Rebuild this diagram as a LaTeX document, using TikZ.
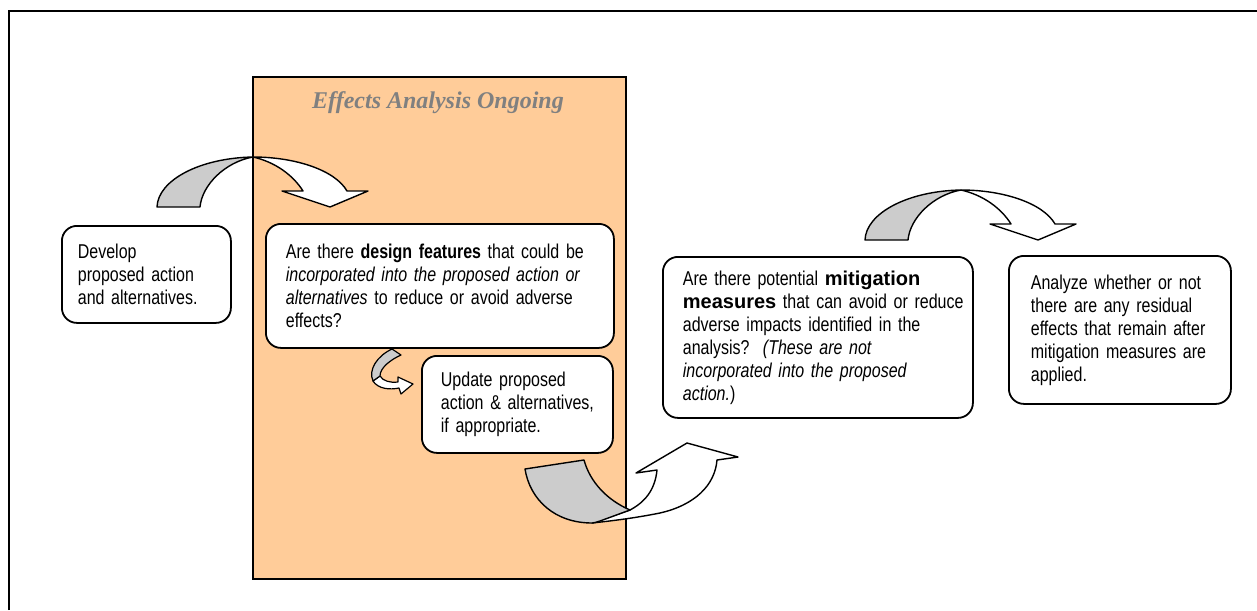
\documentclass[tikz,border=0pt]{standalone}
\usepackage{fontspec}
\setmainfont{Liberation Sans}[FakeStretch=0.8, WordSpace=0.85]
\newfontfamily\widebold{Liberation Sans}
\newfontfamily\titlefont{Liberation Serif}
\definecolor{zoneorange}{HTML}{FFCC99}
\definecolor{titlegray}{HTML}{808080}
\definecolor{arrowgray}{HTML}{CCCCCC}
\hyphenpenalty=10000
\exhyphenpenalty=10000
\tikzset{
  rbox/.style={draw, line width=1.8pt, rounded corners=15pt, fill=white, align=left,
    font=\fontsize{20}{23}\selectfont, inner ysep=4pt, anchor=north west},
  blockarrow/.style={draw, line width=1.4pt, line join=round},
  curvedown/.pic={
    \path[blockarrow, fill=white] (96,-50) .. controls (138,-50) and (178,-37) .. (190,-16)
      -- (211,-16) -- (173,0) -- (125,-16) -- (146,-16)
      .. controls (136,-32) and (118,-45) .. (96,-50) -- cycle;
    \path[blockarrow, fill=arrowgray] (0,0) .. controls (1,-27) and (43,-49) .. (96,-50)
      .. controls (68,-45) and (45,-22) .. (43,0) -- cycle;
  }
}
\begin{document}
\begin{tikzpicture}[x=1pt,y=-1pt]
\useasboundingbox (0,0) rectangle (1257,610);
\draw[line width=2pt] (9,610) -- (9,11) -- (1257,11);
\node[draw, line width=2pt, fill=zoneorange, minimum width=373pt, minimum height=502pt,
  anchor=north west, inner sep=0pt] (zone) at (252,76) {};
\node[font=\titlefont\bfseries\itshape\fontsize{24}{28}\selectfont, text=titlegray] (title)
  at (438,103) {Effects Analysis Ongoing};

\node[rbox, text width=137pt, inner xsep=16pt, minimum height=97pt] (develop) at (61,225)
  {Develop\\proposed action\\and alternatives.};
\node[rbox, text width=308pt, inner xsep=20pt, minimum height=124pt] (design) at (265,223)
  {Are there \textbf{design features} that could be\\
   \textit{incorporated into the proposed action or}\\
   \textit{alternatives} to reduce or avoid adverse\\
   effects?};
\node[rbox, text width=153pt, inner xsep=19pt, minimum height=97pt] (update) at (421,355)
  {Update proposed\\action \& alternatives,\\if appropriate.};
\node[rbox, text width=270pt, inner xsep=20pt, minimum height=161pt] (mitig) at (662,256)
  {Are there potential {\widebold\bfseries mitigation}\\
   \mbox{{\widebold\bfseries measures} that can avoid or reduce}\\
   adverse impacts identified in the\\
   analysis?\ \ \textit{(These are not}\\
   \textit{incorporated into the proposed}\\
   \textit{action.}{)}};
\node[rbox, text width=178pt, inner xsep=22pt, minimum height=148pt] (residual) at (1008,255)
  {Analyze whether or not\\there are any residual\\effects that remain after\\mitigation measures are\\applied.};

% curved block arrows
\pic at (157,207) {curvedown};
\pic at (865,240) {curvedown};

% small arrow between design and update
\path[blockarrow, line width=1.2pt, fill=white] (373,381) .. controls (378,389) and (390,390) .. (399,388)
  -- (401,394) -- (413,384) -- (398,377) -- (398,382)
  .. controls (390,383) and (383,381) .. (380,376) -- cycle;
\path[blockarrow, line width=1.2pt, fill=arrowgray] (392,349) -- (401,355)
  .. controls (390,360) and (380,368) .. (380,376) -- (373,381)
  .. controls (368,370) and (377,356) .. (392,349) -- cycle;

% bottom arrow from zone to mitigation
\path[blockarrow, fill=white] (592,523) .. controls (620,520) and (640,517) .. (660,513)
  .. controls (695,505) and (715,485) .. (717,460) -- (738,457) -- (687,443) -- (636,473) -- (657,470)
  .. controls (655,490) and (645,502) .. (630,510) -- cycle;
\path[blockarrow, fill=arrowgray] (525,469) -- (584,460)
  .. controls (590,482) and (607,500) .. (630,510) -- (600,521)
  .. controls (597,522) and (594,523) .. (592,523)
  .. controls (555,523) and (530,500) .. (525,469) -- cycle;
\end{tikzpicture}
\end{document}
